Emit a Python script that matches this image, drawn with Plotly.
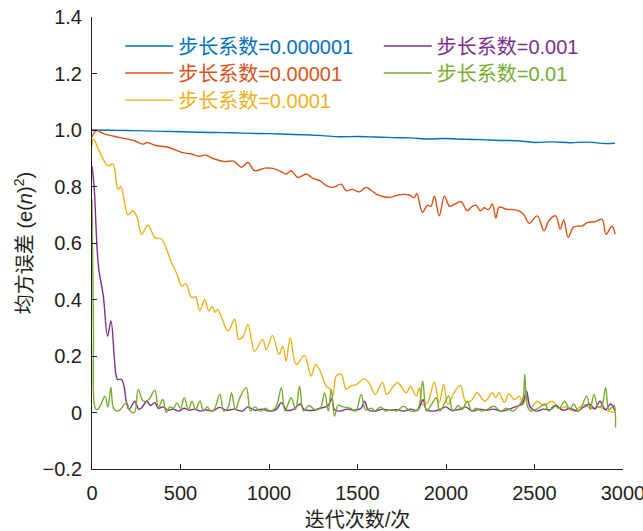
import plotly.graph_objects as go

# ---------------- data ----------------
labels = ["步长系数=0.000001", "步长系数=0.00001", "步长系数=0.0001",
          "步长系数=0.001", "步长系数=0.01"]
colors = ["#0072BD", "#D95319", "#EDB120", "#7E2F8E", "#77AC30"]

x_blue = [0, 100, 200, 300, 400, 500, 600, 700, 800, 900, 1000, 1100, 1200, 1300,
          1400, 1500, 1600, 1700, 1800, 1900, 2000, 2100, 2200, 2300, 2400, 2500,
          2600, 2700, 2800, 2900, 2955]
y_blue = [1.0, 0.999, 0.998, 0.997, 0.995, 0.994, 0.992, 0.991, 0.990, 0.988, 0.987,
          0.985, 0.983, 0.980, 0.976, 0.977, 0.975, 0.973, 0.972, 0.968, 0.970, 0.967,
          0.966, 0.963, 0.962, 0.956, 0.958, 0.955, 0.957, 0.952, 0.953]

x_orange = [0, 25, 70, 150, 240, 290, 310, 360, 430, 506, 560, 609, 640, 680, 750, 800,
            844, 881, 919, 975, 1021, 1060, 1097, 1125, 1163, 1210, 1248, 1290, 1323,
            1361, 1408, 1436, 1470, 1511, 1549, 1580, 1615, 1680, 1720, 1760, 1793, 1820,
            1835, 1867, 1895, 1915, 1934, 1962, 1991, 2020, 2050, 2085, 2120, 2145, 2169,
            2195, 2215, 2240, 2262, 2282, 2300, 2340, 2380, 2413, 2440, 2470, 2515, 2554,
            2580, 2620, 2645, 2665, 2690, 2720, 2750, 2769, 2800, 2840, 2882, 2904, 2938,
            2955]
y_orange = [0.975, 0.998, 0.986, 0.974, 0.962, 0.95, 0.956, 0.945, 0.939, 0.921, 0.915,
            0.907, 0.912, 0.9, 0.888, 0.89, 0.868, 0.885, 0.856, 0.865, 0.864, 0.855,
            0.844, 0.856, 0.832, 0.844, 0.829, 0.82, 0.803, 0.797, 0.808, 0.785, 0.79,
            0.781, 0.797, 0.785, 0.77, 0.761, 0.768, 0.772, 0.77, 0.76, 0.775, 0.709,
            0.734, 0.73, 0.766, 0.696, 0.766, 0.73, 0.738, 0.746, 0.714, 0.728, 0.734,
            0.714, 0.725, 0.718, 0.738, 0.688, 0.727, 0.72, 0.718, 0.714, 0.7, 0.67,
            0.696, 0.643, 0.678, 0.696, 0.649, 0.682, 0.62, 0.656, 0.66, 0.66, 0.673,
            0.675, 0.684, 0.631, 0.66, 0.631]

x_yellow = [0, 8, 45, 90, 118, 147, 163, 203, 231, 255, 280, 316, 355, 393, 420, 449, 480,
            506, 530, 562, 585, 609, 637, 660, 680, 695, 710, 730, 769, 806, 829, 855,
            881, 919, 964, 985, 1019, 1056, 1078, 1097, 1120, 1154, 1200, 1238, 1263,
            1290, 1323, 1342, 1361, 1380, 1408, 1436, 1465, 1493, 1539, 1570, 1600, 1641,
            1665, 1700, 1726, 1775, 1800, 1831, 1850, 1867, 1895, 1934, 1962, 1987, 2010,
            2040, 2081, 2110, 2140, 2175, 2220, 2262, 2280, 2300, 2330, 2355, 2385, 2415,
            2435, 2455, 2480, 2515, 2550, 2600, 2640, 2680, 2720, 2780, 2820, 2870, 2920,
            2955]
y_yellow = [0.944, 0.968, 0.92, 0.873, 0.88, 0.79, 0.80, 0.70, 0.714, 0.69, 0.631, 0.663,
            0.62, 0.613, 0.58, 0.531, 0.49, 0.448, 0.455, 0.407, 0.41, 0.36, 0.40, 0.36,
            0.375, 0.355, 0.365, 0.34, 0.288, 0.33, 0.259, 0.27, 0.312, 0.217, 0.259,
            0.223, 0.273, 0.206, 0.234, 0.182, 0.265, 0.17, 0.202, 0.129, 0.17, 0.146,
            0.093, 0.085, 0.06, 0.129, 0.135, 0.082, 0.095, 0.099, 0.12, 0.1, 0.064,
            0.106, 0.064, 0.09, 0.106, 0.07, 0.093, 0.058, 0.088, 0.028, 0.035, 0.106,
            0.035, 0.099, 0.028, 0.064, 0.096, 0.04, 0.04, 0.07, 0.04, 0.07, 0.053, 0.07,
            0.035, 0.067, 0.046, 0.058, 0.028, 0.058, 0.018, 0.04, 0.025, 0.04, 0.015,
            0.02, 0.005, 0.028, 0.015, 0.018, 0.005, 0.0]

x_purple = [0, 12, 36, 64, 88, 107, 126, 135, 145, 167, 182, 195, 210, 242, 265, 285, 308,
            330, 355, 375, 400, 430, 460, 490, 520, 550, 580, 610, 640, 680, 720, 760, 800,
            850, 880, 920, 960, 1000, 1040, 1070, 1100, 1140, 1175, 1200, 1250, 1290, 1320,
            1340, 1355, 1370, 1400, 1440, 1480, 1520, 1540, 1560, 1600, 1640, 1680, 1720,
            1760, 1800, 1840, 1870, 1890, 1930, 1970, 2000, 2030, 2070, 2110, 2150, 2190,
            2230, 2270, 2310, 2350, 2390, 2430, 2455, 2475, 2510, 2550, 2590, 2620, 2660,
            2700, 2740, 2780, 2810, 2840, 2870, 2900, 2930, 2955]
y_purple = [0.873, 0.80, 0.519, 0.412, 0.27, 0.324, 0.195, 0.135, 0.117, 0.117, 0.09,
            0.034, 0.011, 0.04, 0.011, 0.02, 0.04, 0.025, 0.035, 0.015, 0.02, 0.008,
            0.012, 0.005, 0.015, 0.008, 0.012, 0.005, 0.01, 0.005, 0.018, 0.008, 0.012,
            0.005, 0.02, 0.008, 0.012, 0.005, 0.01, 0.035, 0.008, 0.012, 0.03, 0.01,
            0.008, 0.015, 0.02, 0.03, 0.05, 0.01, 0.005, 0.012, 0.008, 0.015, 0.04, 0.01,
            0.005, 0.012, 0.008, 0.01, 0.005, 0.012, 0.008, 0.045, 0.01, 0.005, 0.012,
            0.02, 0.008, 0.01, 0.02, 0.005, 0.012, 0.008, 0.012, 0.005, 0.01, 0.02, 0.03,
            0.075, 0.02, 0.005, 0.012, 0.01, 0.025, 0.008, 0.015, 0.005, 0.02, 0.03,
            0.012, 0.04, 0.01, 0.03, 0.005]

x_green = [0, 8, 17, 30, 50, 73, 90, 107, 120, 140, 160, 195, 215, 240, 261, 290, 320,
           355, 375, 400, 420, 440, 460, 480, 500, 521, 545, 565, 585, 610, 630, 650, 670,
           690, 722, 745, 770, 788, 810, 835, 872, 895, 920, 950, 980, 1010, 1040, 1070,
           1090, 1125, 1150, 1173, 1195, 1225, 1260, 1290, 1314, 1335, 1352, 1370, 1390,
           1420, 1460, 1490, 1521, 1545, 1580, 1600, 1630, 1660, 1690, 1720, 1760, 1800,
           1840, 1868, 1890, 1915, 1945, 1965, 1990, 2015, 2040, 2070, 2090, 2120, 2145,
           2170, 2200, 2230, 2270, 2310, 2340, 2380, 2415, 2435, 2445, 2460, 2480, 2520,
           2560, 2580, 2610, 2640, 2670, 2700, 2720, 2750, 2795, 2815, 2836, 2860, 2880,
           2902, 2920, 2940, 2950, 2958]
y_green = [0.755, 0.3, 0.018, 0.01, 0.028, 0.058, 0.02, 0.089, 0.018, 0.005, 0.01, 0.035,
           0.005, 0.0, 0.082, 0.04, 0.045, 0.079, 0.018, 0.046, 0.0, 0.02, 0.015, 0.034,
           0.015, 0.052, 0.01, 0.04, 0.01, 0.04, 0.005, 0.02, 0.005, 0.01, 0.064, 0.005,
           0.02, 0.07, 0.01, 0.052, 0.088, 0.005, 0.02, 0.005, 0.015, 0.005, 0.02, 0.088,
           0.005, 0.052, 0.01, 0.093, 0.005, 0.025, 0.01, 0.015, 0.07, 0.005, 0.082,
           -0.013, 0.025, 0.02, 0.015, 0.005, 0.064, 0.01, 0.015, 0.005, 0.02, 0.005,
           0.01, 0.005, 0.022, 0.005, 0.01, 0.111, 0.005, 0.025, 0.052, 0.005, 0.03,
           0.058, 0.005, 0.025, 0.01, 0.04, 0.005, 0.015, 0.005, 0.01, 0.022, 0.005,
           0.015, 0.005, 0.028, 0.05, 0.135, 0.022, 0.005, 0.015, 0.03, 0.005, 0.025,
           0.015, 0.04, 0.01, 0.03, 0.005, 0.058, 0.01, 0.064, 0.02, 0.025, 0.088, 0.01,
           0.02, 0.025, -0.053]

y_tickvals = [-0.2, 0, 0.2, 0.4, 0.6, 0.8, 1.0, 1.2, 1.4]
y_ticktext = ["\u22120.2", "0", "0.2", "0.4", "0.6", "0.8", "1.0", "1.2", "1.4"]
x_tickvals = [0, 500, 1000, 1500, 2000, 2500, 3000]
x_ticktext = ["0", "500", "1000", "1500", "2000", "2500", "3000"]

# ---------------- figure ----------------
FONT = "Liberation Sans, Arial, Noto Sans CJK SC, sans-serif"
AXC = "#231F20"
FS = 20

series = [(x_blue, y_blue), (x_orange, y_orange), (x_yellow, y_yellow),
          (x_purple, y_purple), (x_green, y_green)]
legend_ids = ["legend2", "legend3", "legend4", "legend5", "legend6"]
# legend slot positions (paper coords): two columns, three rows
legend_pos = [(0.053, 0.936), (0.053, 0.876), (0.053, 0.816),
              (0.54, 0.936), (0.54, 0.876)]

fig = go.Figure()
for (xs, ys), lab, col, lid in zip(series, labels, colors, legend_ids):
    fig.add_trace(go.Scatter(
        x=xs, y=ys, mode="lines",
        line=dict(color=col, width=1.4, shape="spline", smoothing=1.0),
        name='<span style="color:%s">%s</span>' % (col, lab),
        legend=lid, showlegend=True,
    ))

legends = {}
for lid, (lx, ly) in zip(legend_ids, legend_pos):
    legends[lid] = dict(x=lx, y=ly, xanchor="left", yanchor="middle",
                        bgcolor="rgba(0,0,0,0)", borderwidth=0,
                        font=dict(family=FONT, size=FS), itemwidth=48)

fig.update_layout(
    width=643, height=531,
    margin=dict(l=92, r=20, t=17, b=62, autoexpand=False),
    paper_bgcolor="white", plot_bgcolor="white",
    font=dict(family=FONT, size=FS, color=AXC),
    showlegend=True,
    xaxis=dict(range=[0, 3000], tickvals=x_tickvals, ticktext=x_ticktext,
               showline=True, linecolor=AXC, linewidth=1, mirror=False,
               ticks="inside", ticklen=5, tickcolor=AXC, showgrid=False,
               zeroline=False, tickfont=dict(size=FS, color=AXC),
               ticklabeloverflow="allow", ticklabelstandoff=6, automargin=False,
               title=dict(text="迭代次数/次", font=dict(size=FS, color=AXC), standoff=12)),
    yaxis=dict(range=[-0.2, 1.4], tickvals=y_tickvals, ticktext=y_ticktext,
               showline=True, linecolor=AXC, linewidth=1, mirror=False,
               ticks="inside", ticklen=5, tickcolor=AXC, showgrid=False,
               zeroline=False, tickfont=dict(size=FS, color=AXC),
               ticklabeloverflow="allow", ticklabelstandoff=5, automargin=False,
               title=dict(text="均方误差 (e(<i>n</i>)<sup>2</sup>)",
                          font=dict(size=FS, color=AXC), standoff=4)),
    **legends,
)

fig.write_html("out.html")
